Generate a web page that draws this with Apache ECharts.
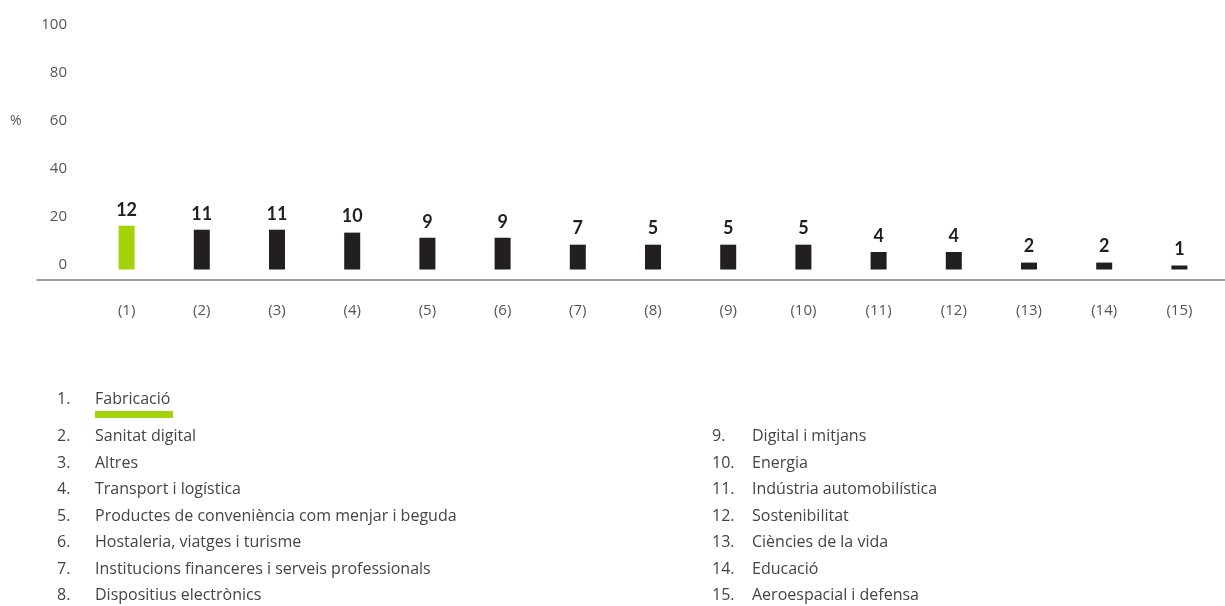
<!DOCTYPE html>
<html>
<head>
<meta charset="utf-8">
<script src="https://cdn.jsdelivr.net/npm/echarts@6/dist/echarts.min.js"></script>
<style>html,body{margin:0;padding:0;background:#fff}#c{width:1225px;height:606px}</style>
</head>
<body>
<div id="c"></div>
<script>
// ---- data ----
const categories = ['(1)','(2)','(3)','(4)','(5)','(6)','(7)','(8)','(9)','(10)','(11)','(12)','(13)','(14)','(15)'];
// values printed above the bars (%)
const values = [12, 11, 11, 10, 9, 9, 7, 5, 5, 5, 4, 4, 2, 2, 1];
// bar heights as drawn in the picture (same units)
const barHeights = [12, 10.9, 10.9, 10.1, 8.7, 8.7, 6.8, 6.8, 6.8, 6.8, 4.8, 4.8, 1.9, 1.9, 1.1];
const sectorNames = [
  'Fabricació','Sanitat digital','Altres','Transport i logística',
  'Productes de conveniència com menjar i beguda','Hostaleria, viatges i turisme',
  'Institucions financeres i serveis professionals','Dispositius electrònics',
  'Digital i mitjans','Energia','Indústria automobilística','Sostenibilitat',
  'Ciències de la vida','Educació','Aeroespacial i defensa'
];
const yTickMin = 0, yTickMax = 100, yTickStep = 20;
const highlightIndex = 0;

// ---- styles ----
const FONT = '"Open Sans", Lato, sans-serif';
const BOLD_FONT = 'Lato, sans-serif';
const GREEN = '#a3d30b';
const DARK = '#231f20';

const chart = echarts.init(document.getElementById('c'), null, {renderer: 'canvas'});

// legend text rows
const graphics = [];
function rowY(r){ return r === 0 ? 398 : 435.5 + (r - 1) * 26.5; }
sectorNames.forEach((name, i) => {
  const col = i < 8 ? 0 : 1;
  const row = i < 8 ? i : i - 7;
  const numX = col === 0 ? 57 : 712;
  const txtX = col === 0 ? 95 : 752;
  const y = rowY(row);
  graphics.push({type:'text', left:numX, top:y - 7, style:{text:(i+1)+'.', font:'16px ' + FONT, fill:'#444'}});
  graphics.push({type:'text', left:txtX, top:y - 7, style:{text:name, font:'16px ' + FONT, fill:'#444'}});
});
graphics.push({type:'rect', shape:{x:95, y:411, width:78, height:7}, style:{fill:GREEN}});
graphics.push({type:'text', left:10, top:114, style:{text:'%', font:'14px ' + FONT, fill:'#555'}});

chart.setOption({
  animation:false,
  textStyle:{fontFamily:FONT},
  grid:[
    {left:75, right:0, top:25, bottom:341},          // tick-label scale
    {left:89, right:8, top:50.5, bottom:336.5},      // bars
    {left:37, right:0, top:280, height:0}            // baseline rule
  ],
  xAxis:[
    {gridIndex:0, type:'value', show:false},
    {gridIndex:1, type:'category', data:categories,
      axisLine:{show:false}, axisTick:{show:false},
      axisLabel:{margin:34, color:'#555', fontSize:15, fontFamily:FONT}},
    {gridIndex:2, type:'value', min:0, max:1,
      axisLine:{show:true, lineStyle:{color:'#7d7d7d', width:1.5}},
      axisTick:{show:false}, axisLabel:{show:false}, splitLine:{show:false}}
  ],
  yAxis:[
    {gridIndex:0, type:'value', min:yTickMin, max:yTickMax, interval:yTickStep,
      axisLine:{show:false}, axisTick:{show:false}, splitLine:{show:false},
      axisLabel:{margin:8, color:'#555', fontSize:15, fontFamily:FONT}},
    {gridIndex:1, type:'value', min:0, max:60, show:false, splitLine:{show:false}},
    {gridIndex:2, type:'value', show:false}
  ],
  series:[{
    type:'bar', xAxisIndex:1, yAxisIndex:1,
    barWidth:16,
    data:barHeights.map((h, i) => ({value:h, itemStyle:{color: i === highlightIndex ? GREEN : DARK}})),
    label:{show:true, position:'top', distance:7, color:DARK, fontSize:18, fontWeight:'bold', fontFamily:BOLD_FONT,
      formatter:(p) => String(values[p.dataIndex])}
  }],
  graphic:graphics
});
</script>
</body>
</html>
